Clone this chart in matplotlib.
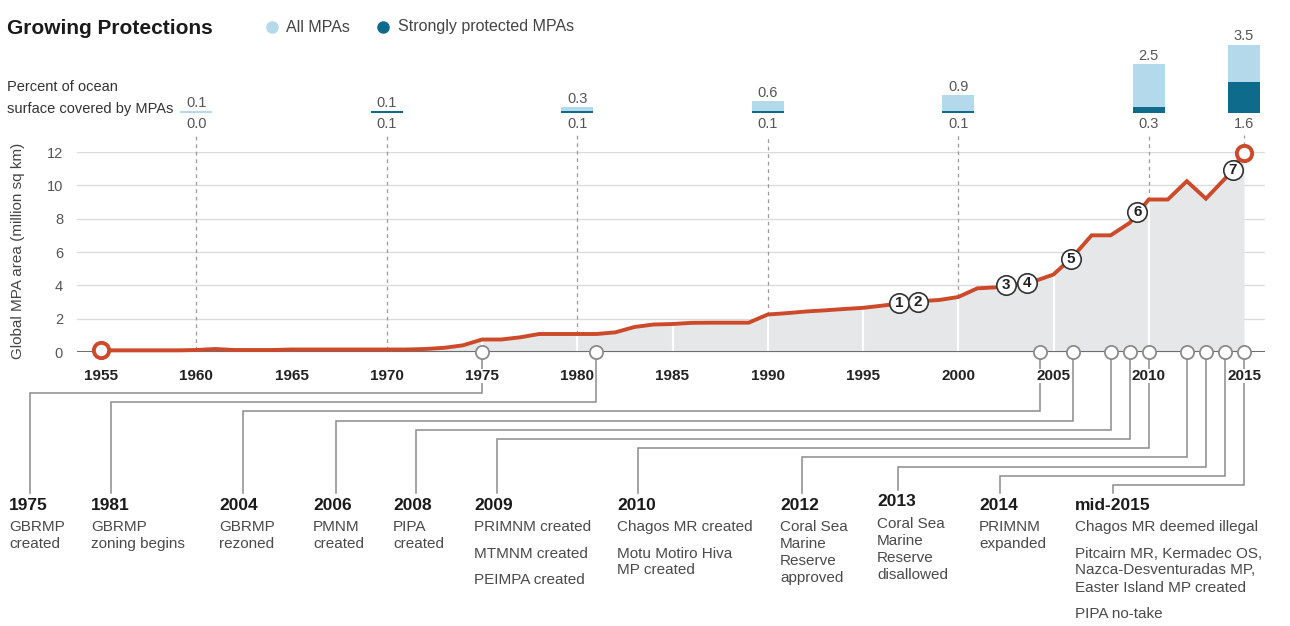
import matplotlib
matplotlib.use('Agg')
import matplotlib.pyplot as plt
import numpy as np

plt.rcParams['font.family'] = ['Liberation Sans', 'DejaVu Sans']

# Global MPA area (million sq km), one value per year
years = list(range(1955, 2016))
area = [0.10, 0.10, 0.10, 0.10, 0.10, 0.12, 0.18, 0.12, 0.12, 0.12,
        0.15, 0.15, 0.15, 0.15, 0.15, 0.15, 0.15, 0.18, 0.25, 0.40,
        0.75, 0.75, 0.88, 1.08, 1.08, 1.08, 1.08, 1.18, 1.50, 1.65,
        1.68, 1.75, 1.76, 1.76, 1.76, 2.25, 2.33, 2.43, 2.50, 2.58,
        2.65, 2.78, 2.92, 3.05, 3.12, 3.30, 3.82, 3.88, 4.05, 4.25,
        4.65, 5.70, 7.00, 7.00, 7.75, 9.15, 9.15, 10.25, 9.20, 10.40,
        11.95]

# numbered callouts along the line
marker_num = ['1', '2', '3', '4', '5', '6', '7']
marker_year = [1996.9, 1997.9, 2002.5, 2003.6, 2005.9, 2009.4, 2014.4]
marker_area = [2.93, 3.02, 4.00, 4.15, 5.60, 8.40, 10.90]

# percent of ocean surface covered by MPAs
pct_years = [1960, 1970, 1980, 1990, 2000, 2010, 2015]
pct_all = [0.1, 0.1, 0.3, 0.6, 0.9, 2.5, 3.5]
pct_strong = [0.0, 0.1, 0.1, 0.1, 0.1, 0.3, 1.6]

# events on the timeline
event_year = [1975, 1981, 2004.3, 2006, 2008, 2009, 2010, 2012, 2013, 2014, 2015]
event_title = ['1975', '1981', '2004', '2006', '2008', '2009', '2010',
               '2012', '2013', '2014', 'mid-2015']
event_notes = [
    ['GBRMP\ncreated'],
    ['GBRMP\nzoning begins'],
    ['GBRMP\nrezoned'],
    ['PMNM\ncreated'],
    ['PIPA\ncreated'],
    ['PRIMNM created', 'MTMNM created', 'PEIMPA created'],
    ['Chagos MR created', 'Motu Motiro Hiva\nMP created'],
    ['Coral Sea\nMarine\nReserve\napproved'],
    ['Coral Sea\nMarine\nReserve\ndisallowed'],
    ['PRIMNM\nexpanded'],
    ['Chagos MR deemed illegal',
     'Pitcairn MR, Kermadec OS,\nNazca-Desventuradas MP,\nEaster Island MP created',
     'PIPA no-take'],
]
# label layout (pixels of the 1290x626 canvas)
label_left = [9, 91, 219, 313, 393, 474, 617, 780, 877, 979, 1075]
drop_x = [30, 111, 243, 336, 416, 497, 638, 802, 898, 1000, 1113]
title_y = [505, 505, 505, 505, 505, 505, 505, 505, 502, 505, 505]

RED = '#cc4a2a'
LIGHT = '#b3d9ea'
DARK = '#0e6b8b'
FILL = '#e6e7e8'

W, H = 1290, 626
fig = plt.figure(figsize=(W / 100, H / 100), dpi=100)

# overlay in canvas pixels for text and leader lines
lay = fig.add_axes([0, 0, 1, 1])
lay.set_xlim(0, W)
lay.set_ylim(H, 0)
lay.axis('off')
lay.patch.set_visible(False)
lay.set_zorder(-1)

# main chart
xlim = (1955 - 24 / 19.05, 2015 + 21 / 19.05)
ax = fig.add_axes([77 / W, (H - 352) / H, 1188 / W, 200 / H])
ax.set_xlim(*xlim)
ax.set_ylim(0, 12)
ax.patch.set_visible(False)
for s in ax.spines.values():
    s.set_visible(False)

ax.set_yticks(range(0, 13, 2))
ax.grid(axis='y', color='#dcdcdc', lw=1)
ax.set_axisbelow(True)
ax.tick_params(axis='y', length=0, pad=10, labelsize=10.5, labelcolor='#555555')
ax.set_xticks(range(1955, 2016, 5))
ax.tick_params(axis='x', length=0, pad=12.5, labelsize=11, labelcolor='#222222')
for lbl in ax.get_xticklabels():
    lbl.set_fontweight('bold')
    lbl.set_bbox(dict(facecolor='white', edgecolor='none', pad=0))

area_at = dict(zip(years, area))

# dashed guides from the percent bars down to the line
for yr in pct_years:
    ax.plot([yr, yr], [area_at[yr], 13.0], color='#9a9a9a', lw=0.9,
            ls=(0, (3, 3)), clip_on=False, zorder=0.6)

ax.fill_between(years, 0, area, color=FILL, lw=0, zorder=1)
for yr in range(1960, 2015, 5):
    ax.plot([yr, yr], [0, area_at[yr]], color='white', lw=1.5, zorder=1.5)

ax.axhline(0, color='#6e6e6e', lw=2.2, zorder=2)
ax.plot(years, area, color=RED, lw=2.8, solid_joinstyle='miter', zorder=3, clip_on=False)
ax.plot([years[0], years[-1]], [area[0], area[-1]], 'o', mfc='white', mec=RED,
        ms=11, mew=2.8, zorder=5, clip_on=False)

# event circles on the baseline
ax.plot(event_year, [0] * len(event_year), 'o', mfc='white', mec='#8a8a8a',
        ms=9.5, mew=1.3, zorder=4, clip_on=False)

# numbered callouts
ax.plot(marker_year, marker_area, 'o', mfc='white', mec='#333333', ms=14, mew=1.2, zorder=6)
for n, x, y in zip(marker_num, marker_year, marker_area):
    ax.text(x, y, n, ha='center', va='center', fontsize=11, fontweight='bold',
            color='#222222', zorder=7)

# percent bars above the chart
bar_px = 19.5
bax = fig.add_axes([77 / W, (H - 113) / H, 1188 / W, 113 / H])
bax.set_xlim(*xlim)
bax.set_ylim(0, 113 / bar_px)
bax.axis('off')
bax.bar(pct_years, pct_all, width=1.68, color=LIGHT)
bax.bar(pct_years, pct_strong, width=1.68, color=DARK)
for yr, a, s in zip(pct_years, pct_all, pct_strong):
    bax.annotate(f'{a:.1f}', (yr, a), xytext=(0, 1), textcoords='offset points',
                 ha='center', va='bottom', fontsize=10.5, color='#555555')
    bax.annotate(f'{s:.1f}', (yr, 0), xytext=(0, -3), textcoords='offset points',
                 ha='center', va='top', fontsize=10.5, color='#555555',
                 annotation_clip=False)

# header
lay.text(7, 28, 'Growing Protections', fontsize=15, fontweight='bold',
         color='#1a1a1a', va='center')
lay.plot([272], [27], 'o', color=LIGHT, ms=8)
lay.text(286, 27, 'All MPAs', fontsize=11.5, color='#444444', va='center')
lay.plot([383], [27], 'o', color=DARK, ms=8)
lay.text(398, 27, 'Strongly protected MPAs', fontsize=11.5, color='#444444', va='center')
lay.text(7, 87, 'Percent of ocean', fontsize=10.5, color='#333333', va='center')
lay.text(7, 109, 'surface covered by MPAs', fontsize=10.5, color='#333333', va='center')
lay.text(18, 251, 'Global MPA area (million sq km)', fontsize=11, color='#444444',
         rotation=90, ha='center', va='center')

# leaders and event labels below the axis
to_lay = lay.transData.inverted()
for i, (yr, ttl, notes) in enumerate(zip(event_year, event_title, event_notes)):
    ex, ey = to_lay.transform(ax.transData.transform((yr, 0)))
    elbow = 393 + 9.2 * i
    top = title_y[i] - 12
    lay.plot([ex, ex, drop_x[i], drop_x[i]], [ey, elbow, elbow, top],
             color='#8c8c8c', lw=1.1, solid_joinstyle='miter')
    lay.text(label_left[i], title_y[i], ttl, fontsize=12.5, fontweight='bold',
             color='#1a1a1a', va='center')
    y = title_y[i] + 22
    for para in notes:
        for line in para.split('\n'):
            lay.text(label_left[i], y, line, fontsize=11, color='#4a4a4a', va='center')
            y += 17
        y += 9.5

fig.savefig('out.png', dpi=100)
